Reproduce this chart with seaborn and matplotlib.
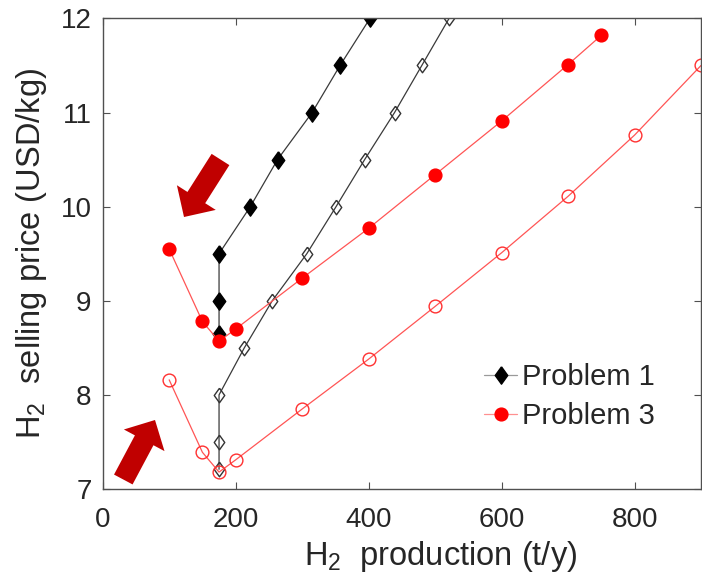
import numpy as np
import pandas as pd
import matplotlib
matplotlib.use("Agg")
import matplotlib.pyplot as plt
from matplotlib.patches import FancyArrow
from matplotlib.transforms import IdentityTransform
from matplotlib.lines import Line2D
import seaborn as sns

# Problem 1 (filled: first scenario, open: second scenario)
p1_fill_x = [175, 175, 175, 222, 263, 315, 357, 402]
p1_fill_y = [8.65, 9.0, 9.5, 10.0, 10.5, 11.0, 11.5, 12.0]
p1_open_x = [175, 175, 175, 213, 255, 307, 351, 394, 439, 480, 521]
p1_open_y = [7.21, 7.5, 8.0, 8.5, 9.0, 9.5, 10.0, 10.5, 11.0, 11.5, 12.0]

# Problem 3
p3_fill_x = [100, 150, 175, 200, 300, 400, 500, 600, 700, 750]
p3_fill_y = [9.55, 8.78, 8.57, 8.70, 9.24, 9.77, 10.34, 10.91, 11.51, 11.82]
p3_open_x = [100, 150, 175, 200, 300, 400, 500, 600, 700, 800, 900]
p3_open_y = [8.16, 7.39, 7.18, 7.31, 7.85, 8.38, 8.94, 9.51, 10.11, 10.76, 11.5]

x_ticks = [0, 200, 400, 600, 800]
y_ticks = [7, 8, 9, 10, 11, 12]
legend_labels = ["Problem 1", "Problem 3"]

sns.set_theme(style="ticks")
plt.rcParams["font.family"] = ["Liberation Sans", "DejaVu Sans"]
plt.rcParams["mathtext.fontset"] = "custom"
plt.rcParams["mathtext.rm"] = "Liberation Sans"
plt.rcParams["mathtext.it"] = "Liberation Sans:italic"
plt.rcParams["mathtext.bf"] = "Liberation Sans:bold"

fig = plt.figure(figsize=(7.02, 5.76), dpi=100)
ax = fig.add_axes([0.1463, 0.151, 0.8523, 0.817])

diamond = [(0, 1), (0.72, 0), (0, -1), (-0.72, 0), (0, 1)]
blk_line = "#3a3a3a"
red_line = "#ff5555"
text_col = "#262626"
axis_col = "#505050"


def series(x, y, color, marker, ms, face, edge):
    df = pd.DataFrame({"x": x, "y": y})
    sns.lineplot(data=df, x="x", y="y", sort=False, estimator=None, ax=ax,
                 color=color, linewidth=0.9, marker=marker, markersize=ms,
                 markerfacecolor=face, markeredgecolor=edge,
                 markeredgewidth=1.0, legend=False)


series(p1_open_x, p1_open_y, blk_line, diamond, 10.5, "none", "#333333")
series(p1_fill_x, p1_fill_y, blk_line, diamond, 12.5, "black", "black")
series(p3_open_x, p3_open_y, red_line, "o", 9.2, "none", "#ff3030")
series(p3_fill_x, p3_fill_y, red_line, "o", 9.2, "red", "red")

ax.set_xlim(0, 900)
ax.set_ylim(7, 12)
ax.set_xticks(x_ticks)
ax.set_yticks(y_ticks)
ax.tick_params(direction="in", length=5, width=0.8, colors=axis_col,
               labelcolor=text_col, labelsize=20, top=True, right=True)
ax.tick_params(axis="x", pad=13)
ax.tick_params(axis="y", pad=8)
for s in ax.spines.values():
    s.set_visible(True)
    s.set_color(axis_col)
    s.set_linewidth(1.0)

ax.set_xlabel("H$_2$  production (t/y)", fontsize=23.5, color=text_col)
ax.set_ylabel("H$_2$  selling price (USD/kg)", fontsize=23.5, color=text_col)
ax.xaxis.set_label_coords(0.564, -0.106)
ax.yaxis.set_label_coords(-0.089, 0.50)

# Legend entries
h1 = Line2D([], [], color="#9a9a9a", linewidth=0.9, marker=diamond, markersize=12.5,
            markerfacecolor="black", markeredgecolor="black")
h3 = Line2D([], [], color="#ff9090", linewidth=0.9, marker="o", markersize=9.2,
            markerfacecolor="red", markeredgecolor="red")
ax.legend([h1, h3], legend_labels, loc="center left",
          bbox_to_anchor=(0.637, 0.196), frameon=False, fontsize=21,
          handlelength=1.15, handletextpad=0.15, labelspacing=0.38,
          borderaxespad=0, borderpad=0)

# Block arrows pointing at the minimum-price region
H = 576
arrow_kw = dict(transform=IdentityTransform(), color="#c00000", linewidth=0,
                length_includes_head=True, width=21, head_width=46, head_length=23)
fig.patches.append(FancyArrow(220.5, H - 159.5, 184 - 220.5, -(217 - 159.5), **arrow_kw))
fig.patches.append(FancyArrow(123.3, H - 479.5, 155 - 123.3, -(420 - 479.5), **arrow_kw))

fig.savefig("out.png", dpi=100)
